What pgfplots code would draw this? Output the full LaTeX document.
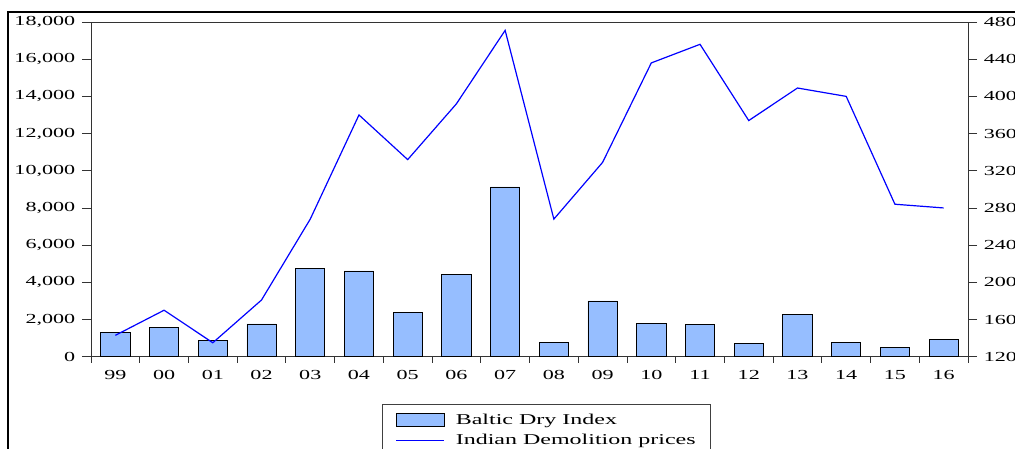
\documentclass[border=0pt]{standalone}
\usepackage{fontspec}
\setmainfont{Liberation Serif}[FakeStretch=1.6]
\usepackage{pgfplots}
\pgfplotsset{compat=1.18}
\definecolor{barblue}{RGB}{150,190,255}
\definecolor{lineblue}{RGB}{0,0,255}
\pgfplotsset{
  lineleg/.style={legend image code/.code={\draw[##1] (0pt,0pt) -- (48pt,0pt);}},
  barleg/.style={legend image code/.code={\draw[fill=barblue,draw=black,line width=0.8pt] (0pt,-6.5pt) rectangle (48pt,6.5pt);}},
}
\begin{document}
\fontsize{13.8}{16}\selectfont
\begin{tikzpicture}[x=1pt,y=1pt]
\useasboundingbox (0,0) rectangle (1015,448);
\draw[line width=2pt] (8,-20) -- (8,436) -- (1100,436);
\begin{axis}[
  at={(91pt,91.3pt)}, anchor=south west, scale only axis,
  width=877pt, height=334.7pt,
  xmin=-0.5, xmax=17.5, ymin=0, ymax=18000,
  axis line style={black!80, line width=0.9pt},
  tick align=outside, major tick length=9pt, minor tick length=6pt,
  every tick/.style={black!80, line width=0.8pt},
  xtick={0,...,17},
  xticklabels={99,00,01,02,03,04,05,06,07,08,09,10,11,12,13,14,15,16},
  major x tick style={draw=none},
  minor xtick={-0.5,0.5,...,17.5},
  xtick pos=bottom, ytick pos=left,
  ytick={0,2000,...,18000},
  scaled y ticks=false,
  /pgf/number format/.cd, 1000 sep={,}, assume math mode=true, /pgfplots/.cd,
  ticklabel style={font=\fontsize{13.8}{16}\selectfont},
  yticklabel style={xshift=-2pt},
]
\addplot[ybar, bar width=0.6, fill=barblue, draw=black, line width=0.8pt] coordinates {
(0,1310) (1,1590) (2,880) (3,1760) (4,4770) (5,4610) (6,2400) (7,4400) (8,9130)
(9,770) (10,3000) (11,1770) (12,1740) (13,720) (14,2280) (15,770) (16,480) (17,950)};
\end{axis}
\begin{axis}[
  at={(91pt,91.3pt)}, anchor=south west, scale only axis,
  width=877pt, height=334.7pt,
  xmin=-0.5, xmax=17.5, ymin=120, ymax=480,
  axis x line=none, axis y line*=right,
  axis line style={black!80, line width=0.9pt},
  tick align=outside, major tick length=9pt,
  every tick/.style={black!80, line width=0.8pt},
  ytick={120,160,...,480},
  ticklabel style={font=\fontsize{13.8}{16}\selectfont},
  /pgf/number format/assume math mode=true,
  yticklabel style={xshift=2pt},
  legend style={at={(0.332,-0.142)}, anchor=north west,
    draw=black!75, line width=0.8pt, inner xsep=13pt, inner ysep=7pt,
    font=\fontsize{15}{17}\selectfont, row sep=4pt,
    /tikz/every odd column/.append style={column sep=9pt}},
  legend cell align=left,
]
\addlegendimage{barleg}
\addlegendentry{Baltic Dry Index}
\addplot[lineblue, line width=1.2pt, mark=none, lineleg] coordinates {
(0,143) (1,170) (2,135) (3,181) (4,268) (5,380) (6,332) (7,392) (8,471)
(9,268) (10,329) (11,436) (12,456) (13,374) (14,409) (15,400) (16,284) (17,280)};
\addlegendentry{Indian Demolition prices}
\end{axis}
\end{tikzpicture}
\end{document}
